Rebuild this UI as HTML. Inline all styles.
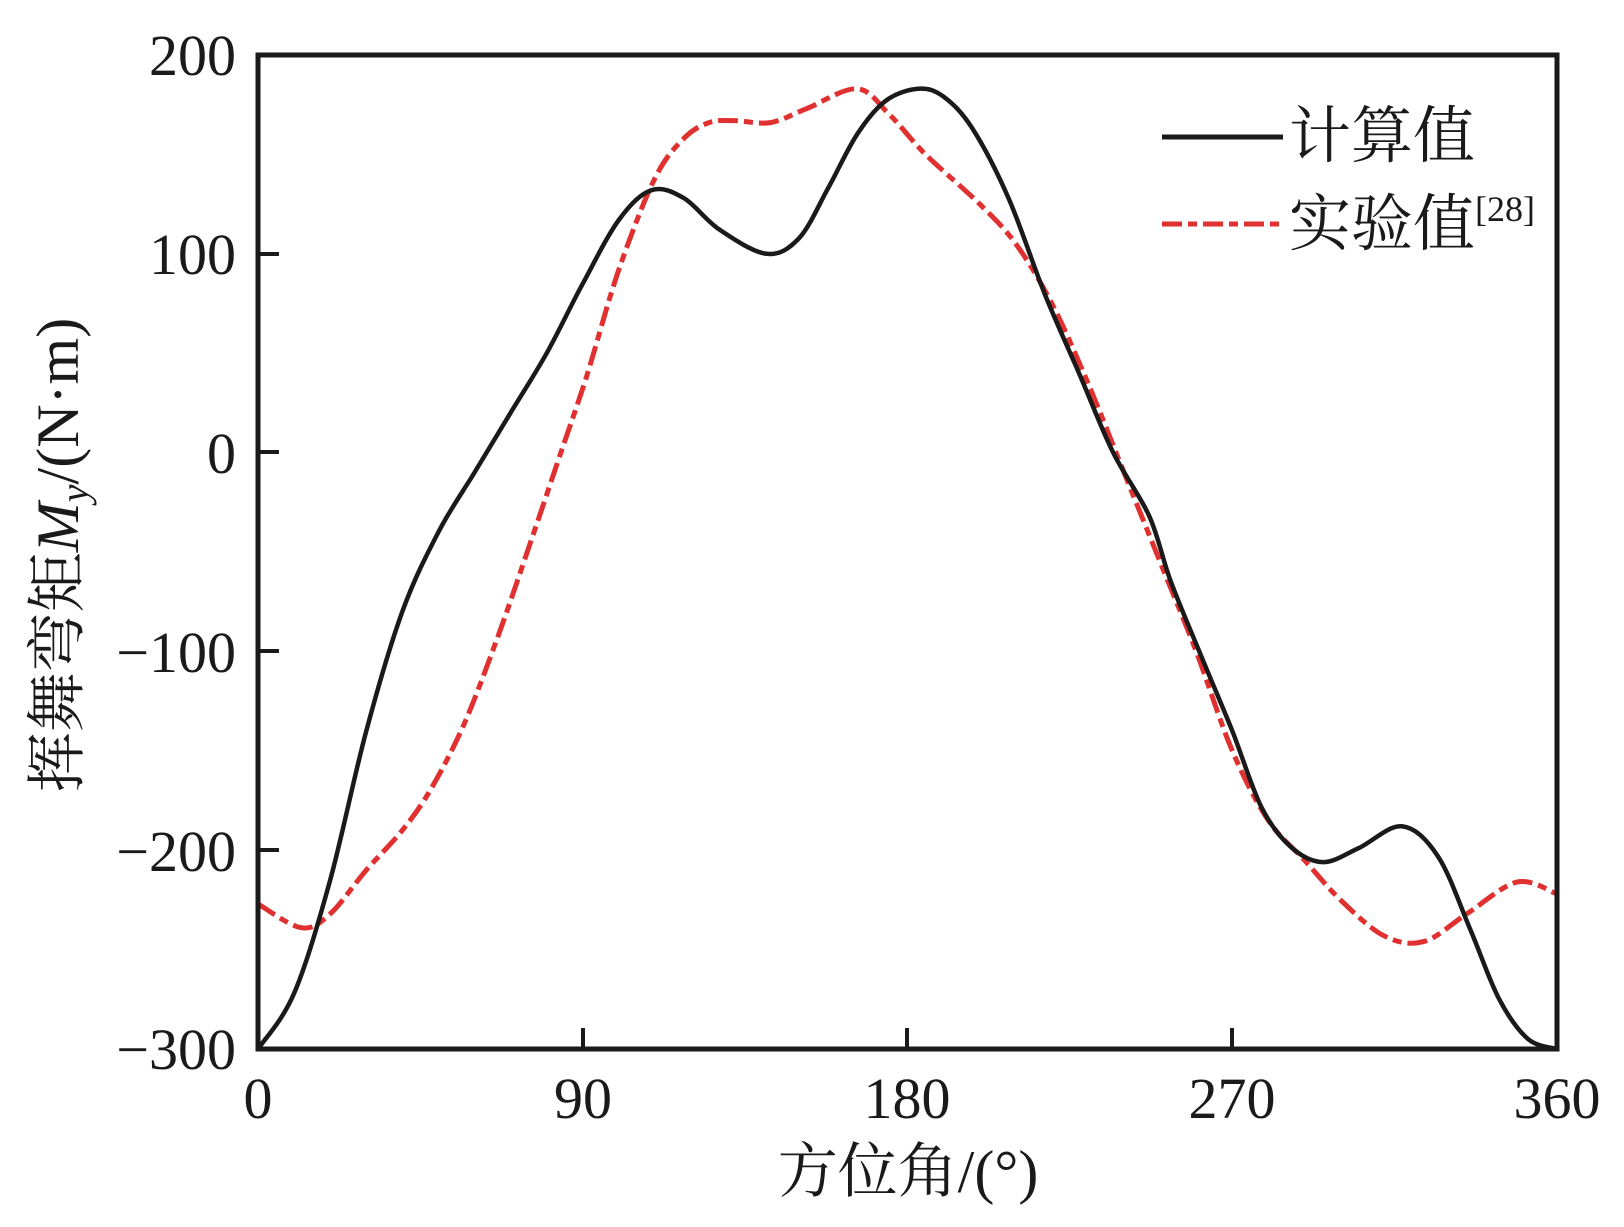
<!DOCTYPE html>
<html><head><meta charset="utf-8"><style>
html,body{margin:0;padding:0;background:#fff;}
svg{display:block;}
text{font-family:"Liberation Serif","Noto Serif CJK SC",serif;fill:#1a1a1a;}
</style></head><body>
<svg id="s" width="1624" height="1227" viewBox="0 0 1624 1227" xmlns="http://www.w3.org/2000/svg">
<g font-size="58" text-anchor="end">
<text x="236" y="75">200</text>
<text x="236" y="274">100</text>
<text x="236" y="473">0</text>
<text x="236" y="672">−100</text>
<text x="236" y="871">−200</text>
<text x="236" y="1069">−300</text>
</g>
<g font-size="58" text-anchor="middle">
<text x="258" y="1118">0</text>
<text x="583" y="1118">90</text>
<text x="907" y="1118">180</text>
<text x="1232" y="1118">270</text>
<text x="1557" y="1118">360</text>
</g>
<text x="908" y="1192" font-size="60" text-anchor="middle">方位角/(°)</text>
<text transform="translate(78,555) rotate(-90)" font-size="60" text-anchor="middle">挥舞弯矩<tspan font-style="italic">M</tspan><tspan font-style="italic" font-size="40" dy="10">y</tspan><tspan dy="-10">/(N·m)</tspan></text>
<g stroke="#1a1a1a" stroke-width="4">
<line x1="583" y1="1049" x2="583" y2="1028"/>
<line x1="907" y1="1049" x2="907" y2="1028"/>
<line x1="1232" y1="1049" x2="1232" y2="1028"/>
<line x1="258" y1="254" x2="279" y2="254"/>
<line x1="258" y1="452" x2="279" y2="452"/>
<line x1="258" y1="651" x2="279" y2="651"/>
<line x1="258" y1="850" x2="279" y2="850"/>
</g>
<path id="red" fill="none" stroke="#e03030" stroke-width="5" stroke-dasharray="20 6 9 6"/>
<path id="blk" fill="none" stroke="#1a1a1a" stroke-width="4.5"/>
<rect x="258" y="55" width="1299" height="994" fill="none" stroke="#1a1a1a" stroke-width="5"/>
<line x1="1162" y1="137" x2="1283" y2="137" stroke="#1a1a1a" stroke-width="5"/>
<text x="1289" y="157" font-size="62">计算值</text>
<line x1="1162" y1="224" x2="1283" y2="224" stroke="#e03030" stroke-width="5" stroke-dasharray="20 6 9 6"/>
<text x="1289" y="245" font-size="62">实验值<tspan font-size="36" dy="-24">[28]</tspan></text>
</svg>
<script>
function X(d){return 258+d/360*1299;}
function Y(v){return 55+(200-v)/500*994;}
function path(pts){
 var p=pts.map(function(a){return [X(a[0]),Y(a[1])];});
 var s="M"+p[0][0].toFixed(1)+","+p[0][1].toFixed(1);
 for(var i=0;i<p.length-1;i++){
  var p0=p[i-1]||p[i],p1=p[i],p2=p[i+1],p3=p[i+2]||p[i+1];
  var c1=[p1[0]+(p2[0]-p0[0])/6,p1[1]+(p2[1]-p0[1])/6];
  var c2=[p2[0]-(p3[0]-p1[0])/6,p2[1]-(p3[1]-p1[1])/6];
  s+=" C"+c1[0].toFixed(1)+","+c1[1].toFixed(1)+" "+c2[0].toFixed(1)+","+c2[1].toFixed(1)+" "+p2[0].toFixed(1)+","+p2[1].toFixed(1);
 }
 return s;
}
var blk=[[0,-300],[10,-272],[20,-215],[30,-140],[40,-80],[50,-40],[60,-10],[70,20],[80,50],[90,85],[100,117],[109,132],[118,128],[128,112],[141,100],[150,108],[158,133],[166,160],[174,177],[183,183],[190,179],[198,163],[208,128],[218,80],[228,38],[237,0],[247,-32],[253,-65],[262,-105],[270,-140],[278,-178],[286,-198],[295,-206],[305,-199],[317,-188],[327,-203],[336,-240],[344,-275],[352,-295],[360,-300]];
var red=[[0,-227],[12,-239],[20,-232],[30,-210],[40,-190],[48,-169],[57,-137],[66,-95],[75,-48],[83,-5],[91,38],[100,92],[110,138],[118,158],[125,166],[132,167],[142,166],[152,173],[166,183],[175,170],[185,150],[200,125],[210,105],[220,75],[230,35],[240,-10],[250,-55],[260,-100],[270,-150],[280,-185],[290,-205],[300,-225],[312,-243],[323,-246],[335,-232],[349,-216],[360,-222]];
document.getElementById("blk").setAttribute("d",path(blk));
document.getElementById("red").setAttribute("d",path(red));
</script>
</body></html>
